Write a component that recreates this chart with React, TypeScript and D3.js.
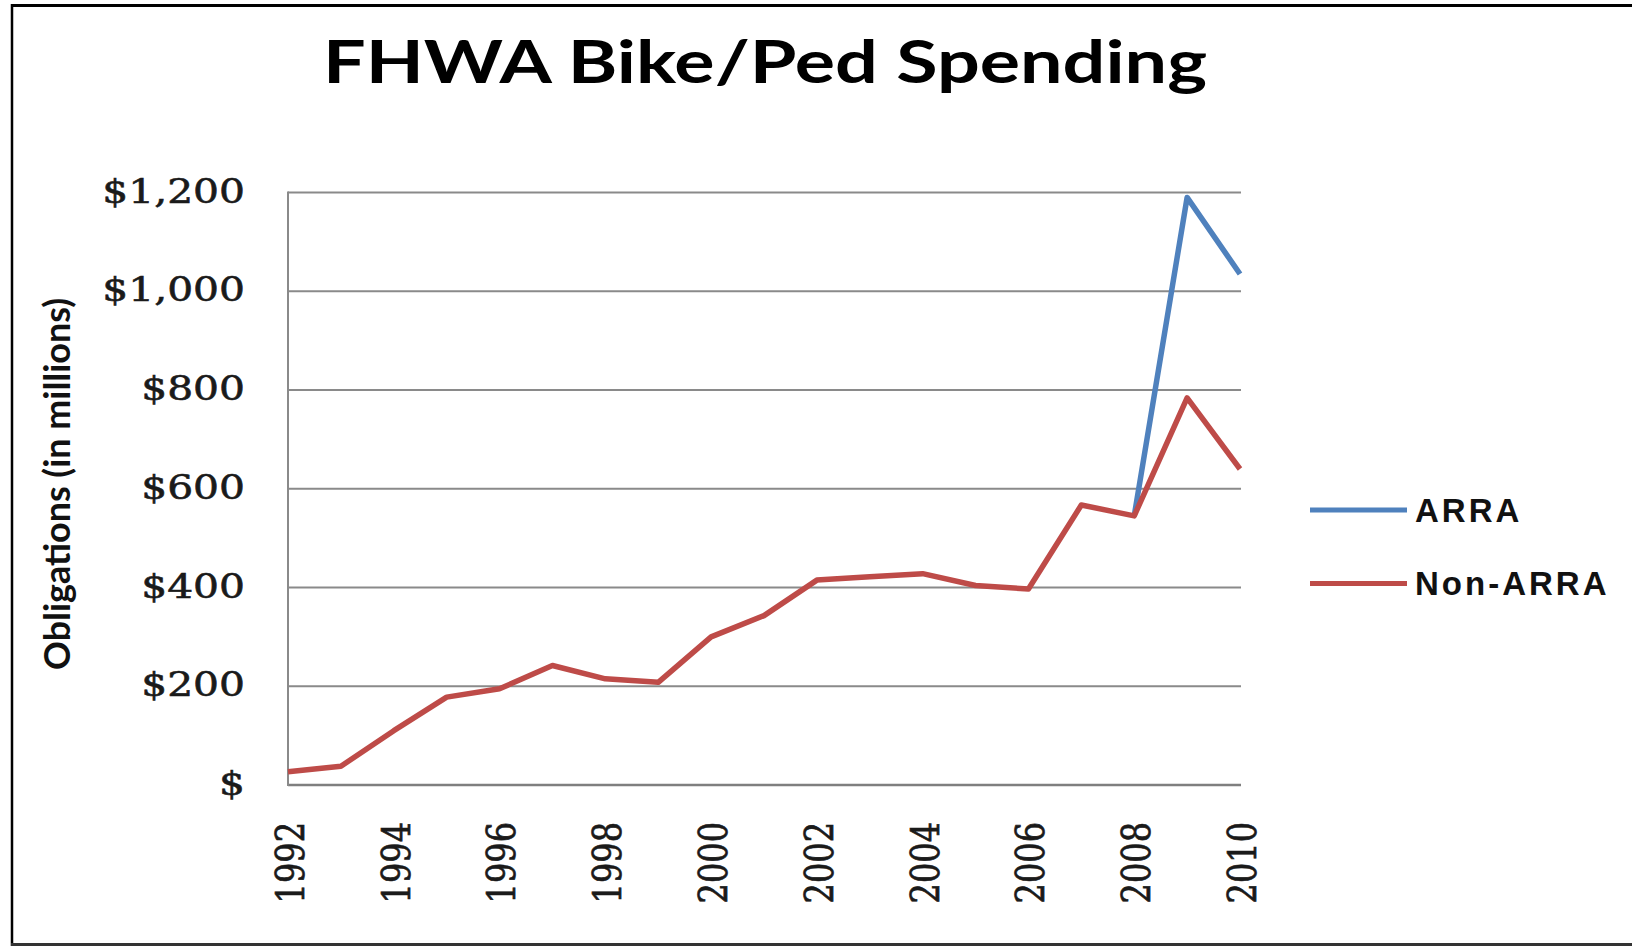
import React from 'react';
import * as d3 from 'd3';

// years on the category axis
const years = d3.range(1992, 2011);
const yearLabels = [1992, 1994, 1996, 1998, 2000, 2002, 2004, 2006, 2008, 2010];

// obligations, $ millions
const nonArra = [27, 38, 110, 178, 195, 242, 215, 208, 300, 343, 415, 422, 428, 404, 397, 567, 545, 784, 640];
const arraYears = [2008, 2009, 2010];
const arra = [545, 1190, 1035];

const yTicks = [0, 200, 400, 600, 800, 1000, 1200];

const series = [
    { name: 'ARRA', color: '#4F81BD' },
    { name: 'Non-ARRA', color: '#BE4B48' },
];

const W = 1632;
const H = 948;

const App = () => {
    const x = d3.scalePoint<number>().domain(years).range([288, 1240]);
    const y = d3.scaleLinear().domain([0, 1200]).range([785, 192.5]);

    const line = d3.line<[number, number]>()
        .x(d => x(d[0]) as number)
        .y(d => y(d[1]));

    const nonArraPts: [number, number][] = years.map((yr, i) => [yr, nonArra[i]]);
    const arraPts: [number, number][] = arraYears.map((yr, i) => [yr, arra[i]]);

    // Excel "$#,###" style: zero shows as a bare "$"
    const fmt = (v: number) => (v === 0 ? '$' : '$' + d3.format(',')(v));

    return (
        <div style={{ position: 'absolute', left: 0, top: 0 }}>
            <svg width={W} height={H} style={{ display: 'block', background: '#fff' }}>
                {/* frame (right side is cut off in the original) */}
                <line x1={12} x2={W} y1={5.5} y2={5.5} stroke="#000" strokeWidth={3} />
                <line x1={12} x2={12} y1={4} y2={946} stroke="#000" strokeWidth={2.5} />
                <line x1={11} x2={W} y1={944.5} y2={944.5} stroke="#333" strokeWidth={3} />

                {/* title */}
                <text
                    x={323}
                    y={83}
                    fontFamily="Lato, 'Open Sans', sans-serif"
                    fontWeight="bold"
                    fontSize={60}
                    textLength={884}
                    lengthAdjust="spacingAndGlyphs"
                    fill="#000"
                >
                    FHWA Bike/Ped Spending
                </text>

                {/* gridlines */}
                {yTicks.map(t => (
                    <line
                        key={t}
                        x1={288}
                        x2={1241}
                        y1={y(t)}
                        y2={y(t)}
                        stroke={t === 0 ? '#7f7f7f' : '#8a8a8a'}
                        strokeWidth={t === 0 ? 2.5 : 2}
                    />
                ))}
                <line x1={288} x2={288} y1={y(1200) - 1} y2={y(0) + 1} stroke="#8a8a8a" strokeWidth={2} />

                {/* y tick labels (the original image is stretched sideways) */}
                {yTicks.map(t => (
                    <text
                        key={t}
                        transform={`translate(245,${y(t)}) scale(1.2,1)`}
                        dy="0.3em"
                        textAnchor="end"
                        fontFamily="'DejaVu Serif', serif"
                        fontSize={34}
                        fill="#1a1a1a"
                        stroke="#1a1a1a"
                        strokeWidth={0.6}
                    >
                        {fmt(t)}
                    </text>
                ))}

                {/* x tick labels */}
                {yearLabels.map(yr => (
                    <text
                        key={yr}
                        transform={`translate(${(x(yr) as number) + 2},822) rotate(-90) scale(1,1.2)`}
                        dy="0.36em"
                        textAnchor="end"
                        fontFamily="'DejaVu Serif', serif"
                        fontSize={32}
                        fill="#1a1a1a"
                        stroke="#1a1a1a"
                        strokeWidth={0.6}
                    >
                        {yr}
                    </text>
                ))}

                {/* y axis title */}
                <text
                    transform="translate(70,484) rotate(-90)"
                    textAnchor="middle"
                    fontFamily="Lato, 'Open Sans', sans-serif"
                    fontWeight="bold"
                    fontSize={36}
                    textLength={372}
                    lengthAdjust="spacingAndGlyphs"
                    fill="#111"
                >
                    Obligations (in millions)
                </text>

                {/* series */}
                <path d={line(arraPts) || ''} fill="none" stroke={series[0].color} strokeWidth={5.5} strokeLinejoin="round" />
                <path d={line(nonArraPts) || ''} fill="none" stroke={series[1].color} strokeWidth={5.5} strokeLinejoin="round" />

                {/* legend */}
                {series.map((s, i) => (
                    <g key={s.name} transform={`translate(1310,${510 + i * 73.5})`}>
                        <line x1={0} x2={97} y1={0} y2={0} stroke={s.color} strokeWidth={5} />
                        <text
                            x={105}
                            y={11.5}
                            fontFamily="'Liberation Sans', Arial, sans-serif"
                            fontWeight="bold"
                            fontSize={33}
                            letterSpacing={3}
                            fill="#111"
                        >
                            {s.name}
                        </text>
                    </g>
                ))}
            </svg>
        </div>
    );
};

export default App;
